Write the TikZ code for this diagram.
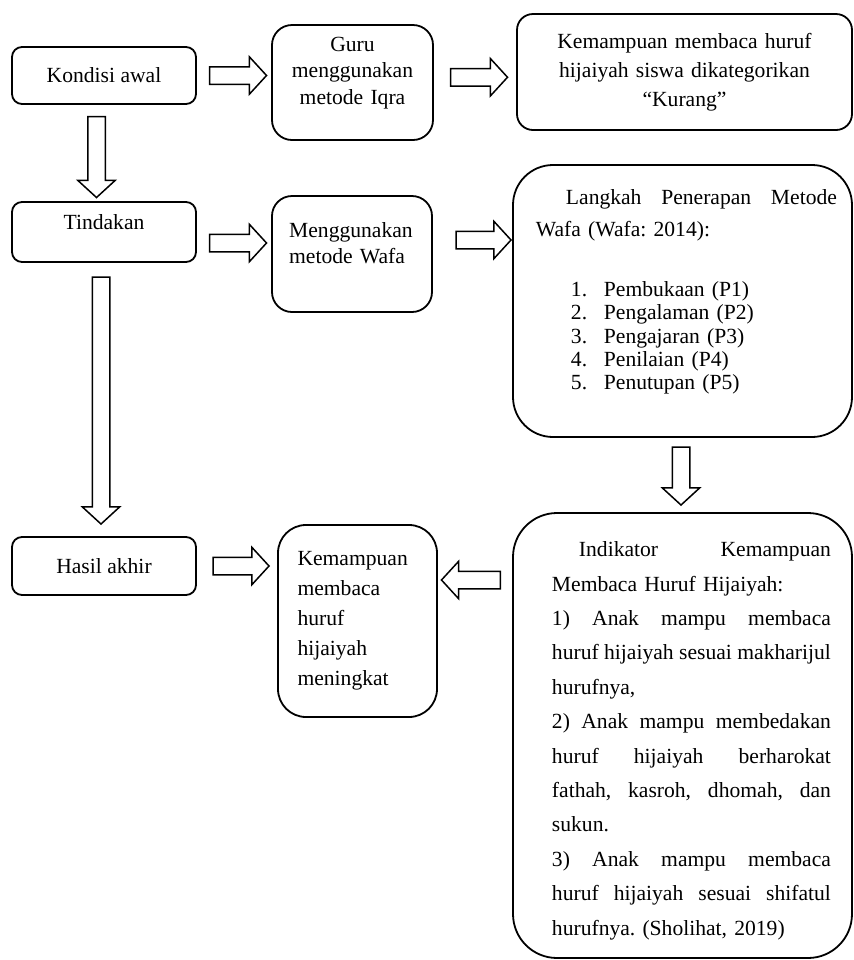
\documentclass[tikz,border=0pt]{standalone}
\usepackage{fontspec}
\setmainfont{Liberation Serif}
\frenchspacing
\usetikzlibrary{shapes.arrows, calc}
\tikzset{
  flowbox/.style={draw, line width=0.9pt, rounded corners=#1},
  flowbox/.default=5pt,
  txt/.style={font=\fontsize{10.8}{#1}\selectfont},
  txt/.default=14pt,
  barrow/.style={single arrow, draw, line width=0.75pt, single arrow head extend=5pt,
    single arrow tip angle=95, inner xsep=0pt, inner ysep=4pt,
    text height=0pt, text depth=0pt, minimum height=#1},
}
\newcommand{\spreadline}[2][139.5pt]{\makebox[#1][l]{#2}}
\begin{document}
\begin{tikzpicture}[x=0.5pt, y=-0.5pt]
  \useasboundingbox (0,0) rectangle (854,960);
  % Left column
  \node[flowbox, txt, minimum width=92pt, minimum height=28.5pt] (kondisi) at (104,75.5) {Kondisi awal};
  \node[flowbox, minimum width=92pt, minimum height=30pt,
    label={[txt, anchor=north, yshift=-3.25pt]north:Tindakan}] (tindakan) at (104,232) {};
  \node[flowbox, txt, minimum width=92pt, minimum height=29pt] (hasil) at (104,566) {Hasil akhir};
  % Middle column
  \node[flowbox=10pt, minimum width=80.5pt, minimum height=57.5pt,
    label={[txt=13.25pt, anchor=north, text width=76pt, align=center, yshift=-3pt]north:{Guru\\menggunakan\\metode Iqra}}] (guru) at (352.5,82.5) {};
  \node[flowbox=10pt, minimum width=80pt, minimum height=58pt,
    label={[txt=13pt, anchor=north west, text width=72pt, align=left, xshift=5.5pt, yshift=-10pt]north west:{Menggunakan\\metode Wafa}}] (menggunakan) at (352,254) {};
  \node[flowbox=14pt, txt=15pt, minimum width=79.5pt, minimum height=96pt, text width=60pt, align=left] (kemampuan) at (357.5,621)
    {Kemampuan\\membaca\\huruf\\hijaiyah\\meningkat};
  % Right column
  \node[flowbox=8pt, txt=14.5pt, minimum width=167.5pt, minimum height=58pt, text width=160pt, align=center] (kurang) at (684.5,72)
    {Kemampuan membaca huruf\\hijaiyah siswa dikategorikan\\``Kurang''};
  \node[flowbox=20pt, minimum width=169.5pt, minimum height=136pt,
    label={[txt=16pt, anchor=north west, text width=150.5pt, align=left, xshift=8.4pt, yshift=-9.25pt]north west:{%
    \hspace*{15pt}\spreadline[135.5pt]{Langkah\hfill Penerapan\hfill Metode}\\
    Wafa (Wafa: 2014):\\[14pt]
    \hspace*{17.5pt}\makebox[16.5pt][l]{1.}Pembukaan (P1)\\[-4.35pt]
    \hspace*{17.5pt}\makebox[16.5pt][l]{2.}Pengalaman (P2)\\[-4.35pt]
    \hspace*{17.5pt}\makebox[16.5pt][l]{3.}Pengajaran (P3)\\[-4.35pt]
    \hspace*{17.5pt}\makebox[16.5pt][l]{4.}Penilaian (P4)\\[-4.35pt]
    \hspace*{17.5pt}\makebox[16.5pt][l]{5.}Penutupan (P5)}}] (langkah) at (682.5,301) {};
  \node[flowbox=22pt, minimum width=169.5pt, minimum height=222.5pt,
    label={[txt=17.2pt, anchor=north west, text width=139.5pt, align=left, xshift=16.4pt, yshift=-11.25pt]north west:{%
    \hspace*{13.5pt}\spreadline[126pt]{Indikator\hfill Kemampuan}\\
    Membaca Huruf Hijaiyah:\\
    \spreadline{1)\hfill Anak\hfill mampu\hfill membaca}\\
    \spreadline{huruf\hfill hijaiyah\hfill sesuai\hfill makharijul}\\
    hurufnya,\\
    \spreadline{2)\hfill Anak\hfill mampu\hfill membedakan}\\
    \spreadline{huruf\hfill hijaiyah\hfill berharokat}\\
    \spreadline{fathah,\hfill kasroh,\hfill dhomah,\hfill dan}\\
    sukun.\\
    \spreadline{3)\hfill Anak\hfill mampu\hfill membaca}\\
    \spreadline{huruf\hfill hijaiyah\hfill sesuai\hfill shifatul}\\
    hurufnya. (Sholihat, 2019)}}] (indikator) at (682.5,735.5) {};
  % Block arrows
  \node[barrow=28.5pt] (a1) at ($(kondisi.east)!0.5!(kondisi.east -| guru.west)$) {};
  \node[barrow=28.5pt] (a2) at ($(guru.east)!0.5!(kurang.west)$) {};
  \node[barrow=28.5pt] (a3) at ($(tindakan.east)!0.5!(menggunakan.west)$) {};
  \node[barrow=27.5pt] (a4) at ($(menggunakan.east)!0.5!(menggunakan.east -| langkah.west) + (7,-14)$) {};
  \node[barrow=28pt] (a5) at ($(hasil.east)!0.5!(hasil.east -| kemampuan.west)$) {};
  \node[barrow=29.5pt, rotate=180] (a6) at ($(kemampuan.east)!0.5!(kemampuan.east -| indikator.west) + (0,-41)$) {};
  \node[barrow=40.5pt, rotate=-90] (v1) at ($(kondisi.south)!0.5!(tindakan.north) + (-7.5,0)$) {};
  \node[barrow=123.5pt, rotate=-90] (v2) at ($(tindakan.south)!0.5!(hasil.north) + (-3,-3)$) {};
  \node[barrow=29pt, rotate=-90] (v3) at ($(langkah.south)!0.5!(indikator.north) + (-1.5,-3)$) {};
\end{tikzpicture}
\end{document}
